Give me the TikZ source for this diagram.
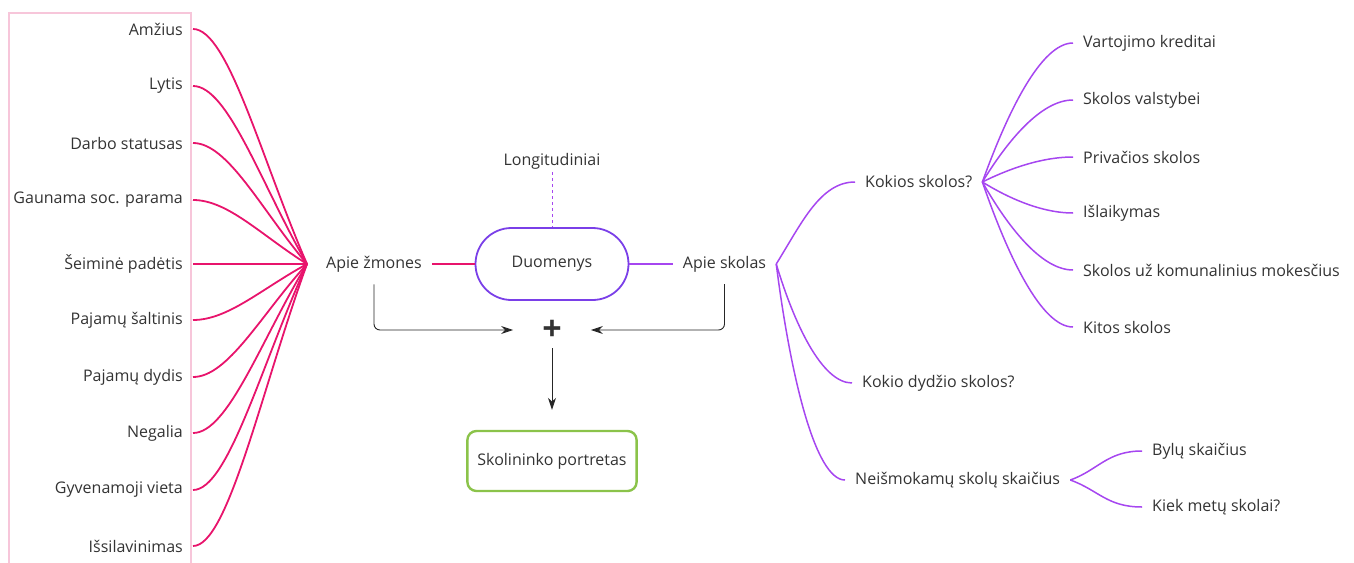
\documentclass[tikz,border=0pt]{standalone}
\usepackage{fontspec}
\setmainfont{Open Sans}
\usepackage{xcolor}
\usepackage{tikz}
\usetikzlibrary{arrows.meta,positioning}

\definecolor{magline}{HTML}{E8146C}
\definecolor{violine}{HTML}{A646F0}
\definecolor{pillcol}{HTML}{7A3FE8}
\definecolor{portcol}{HTML}{8BC34A}
\definecolor{boxpink}{HTML}{F7C6DA}
\definecolor{txt}{HTML}{333333}

\begin{document}
\begin{tikzpicture}[x=1pt,y=1pt,
    >={Stealth[length=12pt,width=8pt]},
    lab/.style={text=txt,font=\fontsize{16}{19}\selectfont,inner xsep=10pt,inner ysep=3pt},
    mid/.style={lab,inner xsep=10pt,inner ysep=12pt},
    magcurve/.style={draw=magline,line width=1.8pt},
    viocurve/.style={draw=violine,line width=1.5pt},
    arr/.style={->,draw=black!85,line width=0.9pt,rounded corners=6pt},
    pill/.style={draw=pillcol,line width=1.8pt,rounded corners=36pt,minimum width=153pt,minimum height=72pt,lab},
    portbox/.style={draw=portcol,line width=2.4pt,rounded corners=9pt,minimum width=169pt,minimum height=60pt,lab}]
  \useasboundingbox (0,0) rectangle (1354,-562);

  % left frame
  \draw[boxpink,line width=1.5pt] (9,-13) rectangle (191,-600);

  % centre
  \coordinate (hubL) at (307,-264);
  \node[pill]  (duom) at (552,-264) {Duomenys};
  \node[mid]   (zmon) at (374,-264) {Apie žmones};
  \node[mid]   (skol) at (724.5,-264) {Apie skolas};
  \node[lab]   (long) at (552,-161) {Longitudiniai};
  \node[text=txt,font=\fontsize{34}{34}\selectfont\bfseries,inner xsep=29pt,inner ysep=8pt] (plus) at (552,-330) {+};
  \node[portbox] (port) at (552,-461) {Skolininko portretas};

  \draw[magline,line width=1.8pt] (zmon.east) -- (duom.west);
  \draw[violine,line width=1.5pt] (duom.east) -- (skol.west);
  \draw[violine,line width=0.8pt,dashed] (long.south) -- (duom.north);

  \draw[arr] (zmon.south) |- (plus.west);
  \draw[arr] (skol.south) |- (plus.east);
  \draw[arr,shorten >=20pt] (plus.south) -- (port.north);

  % about people
  \foreach \n/\y/\t in {amz/29/Amžius, lyt/86/Lytis, darb/143/Darbo statusas,
      param/200/Gaunama soc. parama, seim/264/Šeiminė padėtis, salt/320/Pajamų šaltinis,
      dyd/377/Pajamų dydis, neg/433/Negalia, viet/490/Gyvenamoji vieta, issil/546/Išsilavinimas}
  {
    \node[lab,anchor=east] (\n) at (193,-\y) {\t};
    \draw[magcurve] (\n.east) .. controls +(35,0) and +(-46,{0.45*(264-\y)}) .. (hubL);
  }

  % about debts
  \node[lab,anchor=west] (kok)  at (855,-182) {Kokios skolos?};
  \node[lab,anchor=west] (kdyd) at (852,-383) {Kokio dydžio skolos?};
  \node[lab,anchor=west] (neis) at (845,-480) {Neišmokamų skolų skaičius};

  \draw[viocurve] (skol.east) .. controls +(25,40)   and +(-35,0) .. (kok.west);
  \draw[viocurve] (skol.east) .. controls +(18,-60)  and +(-30,0) .. (kdyd.west);
  \draw[viocurve] (skol.east) .. controls +(14,-110) and +(-30,0) .. (neis.west);

  \foreach \n/\y/\t in {vart/43/Vartojimo kreditai, vals/100/Skolos valstybei,
      priv/157/Privačios skolos, isl/213/Išlaikymas, kom/270/Skolos už komunalinius mokesčius,
      kit/327/Kitos skolos}
  {
    \node[lab,anchor=west] (\n) at (1073,-\y) {\t};
    \draw[viocurve] (kok.east) .. controls +(25,{0.5*(182-\y)}) and +(-32,0) .. (\n.west);
  }

  \node[lab,anchor=west] (byl)  at (1142,-451) {Bylų skaičius};
  \node[lab,anchor=west] (kiek) at (1142,-507) {Kiek metų skolai?};
  \draw[viocurve] (neis.east) .. controls +(28,10)  and +(-35,0) .. (byl.west);
  \draw[viocurve] (neis.east) .. controls +(28,-10) and +(-35,0) .. (kiek.west);
\end{tikzpicture}
\end{document}
